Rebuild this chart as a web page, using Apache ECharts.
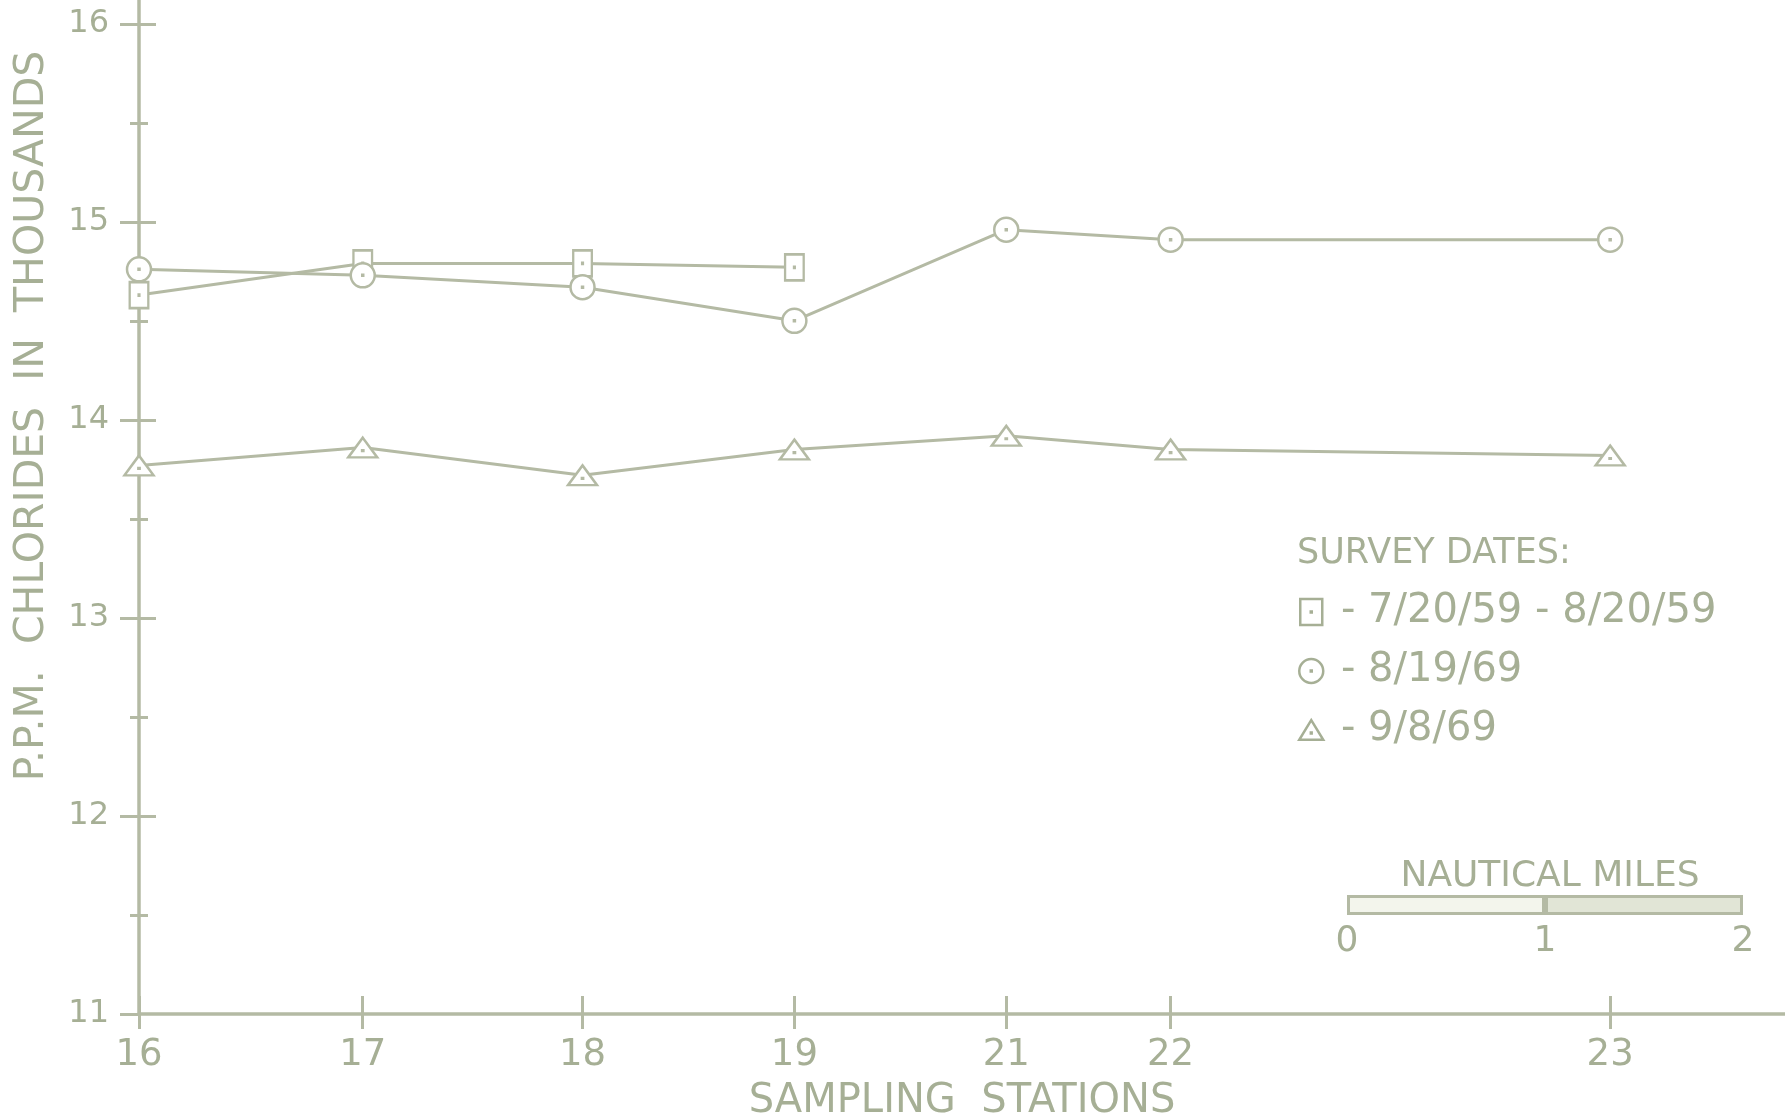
<!DOCTYPE html>
<html>
<head>
<meta charset="utf-8">
<title>Chlorides by sampling station</title>
<script src="https://cdn.jsdelivr.net/npm/echarts@6/dist/echarts.min.js"></script>
<style>
  html, body { margin: 0; padding: 0; background: #ffffff; }
  #chart { width: 1785px; height: 1116px; }
</style>
</head>
<body>
<div id="chart"></div>
<script>
// Sampling stations and their distance along the transect from station 16 (nautical miles)
const stations = ['16', '17', '18', '19', '21', '22', '23'];
const stationMiles = [0, 1.13, 2.24, 3.31, 4.38, 5.21, 7.43];

// Chlorides, p.p.m. in thousands, per survey
const survey1959 = [14.63, 14.79, 14.79, 14.77];            // stations 16-19 only
const survey0819 = [14.76, 14.73, 14.67, 14.50, 14.96, 14.91, 14.91];
const survey0908 = [13.77, 13.86, 13.72, 13.85, 13.92, 13.85, 13.82];

const surveyNames = ['7/20/59 - 8/20/59', '8/19/69', '9/8/69'];

// Axis ticks
const yMajorTicks = [11, 12, 13, 14, 15, 16];
const yMinorTicks = [11.5, 12.5, 13.5, 14.5, 15.5];
const scaleBarMiles = [0, 1, 2];

const INK = '#a6af95';
const LINE = '#b4baa4';
const FONT = '"DejaVu Sans", sans-serif';

// Hollow markers with a small centre dot
const SYM_SQUARE = 'path://M0,0 H22 V26 H0 Z M10.5,12.5 H11.5 V13.5 H10.5 Z';
const SYM_CIRCLE = 'path://M12,0 A12,12 0 1,1 11.99,0 Z M11.5,11.5 H12.5 V12.5 H11.5 Z';
const SYM_TRIANGLE = 'path://M14,0 L28,23 L0,23 Z M13.5,14.5 H14.5 V15.5 H13.5 Z';

const pairs = (vals) => vals.map((v, i) => [stationMiles[i], v]);

function stationLabel(v) {
  let best = 0;
  stationMiles.forEach((m, i) => { if (Math.abs(m - v) < Math.abs(stationMiles[best] - v)) best = i; });
  return stations[best];
}

const chart = echarts.init(document.getElementById('chart'), null, { renderer: 'canvas' });

const tickStyle = { color: LINE, width: 3 };
const xRange = { min: 0, max: 8.313 };
const yRange = { min: 11, max: 16.12 };

function lineSeries(name, vals, symbol, size) {
  return {
    name: name,
    type: 'line',
    xAxisIndex: 0,
    yAxisIndex: 0,
    data: pairs(vals),
    symbol: symbol,
    symbolSize: size,
    symbolKeepAspect: true,
    lineStyle: { color: LINE, width: 3 },
    itemStyle: { color: '#ffffff', borderColor: LINE, borderWidth: 2.5 },
    emphasis: { disabled: true },
    animation: false,
    z: 3
  };
}

// y axis drawn as several overlapping axes so ticks cross the line on both sides
function yTickAxis(values, inside, length) {
  return {
    type: 'value', gridIndex: 0, position: 'left', ...yRange,
    axisLine: { show: false },
    axisTick: { show: true, inside: inside, length: length, lineStyle: tickStyle, customValues: values },
    axisLabel: { show: false },
    splitLine: { show: false }
  };
}

chart.setOption({
  backgroundColor: '#ffffff',
  animation: false,
  textStyle: { fontFamily: FONT },
  grid: [
    { left: 139, right: 0, top: 0, bottom: 102, outerBoundsMode: 'none' },
    { left: 1347, width: 396, top: 895, height: 20, outerBoundsMode: 'none' }
  ],
  title: [
    {
      text: 'SURVEY DATES:',
      left: 1292, top: 531,
      textStyle: { fontFamily: FONT, fontSize: 35, fontWeight: 'normal', color: INK }
    },
    {
      text: 'NAUTICAL MILES',
      left: 1545, top: 854, textAlign: 'center',
      textStyle: { fontFamily: FONT, fontSize: 36, fontWeight: 'normal', color: INK }
    }
  ],
  legend: {
    orient: 'vertical',
    left: 1293, top: 587,
    itemWidth: 24, itemHeight: 26, itemGap: 19,
    selectedMode: false,
    data: [
      { name: surveyNames[0], icon: SYM_SQUARE },
      { name: surveyNames[1], icon: SYM_CIRCLE },
      { name: surveyNames[2], icon: SYM_TRIANGLE }
    ],
    itemStyle: { color: '#ffffff', borderColor: INK, borderWidth: 2.5 },
    formatter: (n) => ' - ' + n,
    textStyle: { fontFamily: FONT, fontSize: 40, lineHeight: 38, color: INK }
  },
  graphic: [
    {
      type: 'text',
      x: 32, y: 416,
      rotation: Math.PI / 2,
      style: {
        text: 'P.P.M.  CHLORIDES  IN  THOUSANDS',
        font: '41px "DejaVu Sans", sans-serif',
        fill: INK,
        align: 'center',
        verticalAlign: 'middle'
      }
    }
  ],
  xAxis: [
    {
      // station axis, ticks below the line
      type: 'value', gridIndex: 0, position: 'bottom', ...xRange,
      axisLine: { show: true, lineStyle: { color: LINE, width: 3.5 } },
      axisTick: { show: true, inside: false, length: 15, lineStyle: tickStyle, customValues: stationMiles },
      axisLabel: { show: true, customValues: stationMiles, formatter: stationLabel, fontSize: 37, color: INK, margin: 23, fontFamily: FONT },
      splitLine: { show: false },
      name: 'SAMPLING  STATIONS', nameLocation: 'middle', nameGap: 68,
      nameTextStyle: { fontSize: 40, color: INK, fontFamily: FONT }
    },
    {
      // same axis, ticks above the line
      type: 'value', gridIndex: 0, position: 'bottom', ...xRange,
      axisLine: { show: false },
      axisTick: { show: true, inside: true, length: 18, lineStyle: tickStyle, customValues: stationMiles },
      axisLabel: { show: false },
      splitLine: { show: false }
    },
    {
      // scale bar, nautical miles
      type: 'value', gridIndex: 1, position: 'bottom', min: 0, max: 2, interval: 1,
      axisLine: { show: false },
      axisTick: { show: false },
      axisLabel: { show: true, customValues: scaleBarMiles, fontSize: 36, color: INK, margin: 9, fontFamily: FONT },
      splitLine: { show: false }
    }
  ],
  yAxis: [
    {
      type: 'value', gridIndex: 0, position: 'left', ...yRange,
      axisLine: { show: true, lineStyle: { color: LINE, width: 3.5 } },
      axisTick: { show: true, inside: false, length: 19, lineStyle: tickStyle, customValues: yMajorTicks },
      axisLabel: { show: true, customValues: yMajorTicks, fontSize: 32, color: INK, margin: 30, fontFamily: FONT },
      splitLine: { show: false }
    },
    yTickAxis(yMajorTicks.slice(1), true, 17),
    yTickAxis(yMinorTicks, false, 9),
    yTickAxis(yMinorTicks, true, 9),
    {
      type: 'category', gridIndex: 1, data: ['scale'],
      show: false
    }
  ],
  series: [
    lineSeries(surveyNames[0], survey1959, SYM_SQUARE, [22, 26]),
    lineSeries(surveyNames[1], survey0819, SYM_CIRCLE, [24, 24]),
    lineSeries(surveyNames[2], survey0908, SYM_TRIANGLE, [29, 24]),
    {
      name: 'mile 0-1', type: 'bar', xAxisIndex: 2, yAxisIndex: 4, stack: 'scale',
      data: [1], barWidth: 20, silent: true,
      itemStyle: { color: '#f3f5ec', borderColor: LINE, borderWidth: 3 }
    },
    {
      name: 'mile 1-2', type: 'bar', xAxisIndex: 2, yAxisIndex: 4, stack: 'scale',
      data: [1], barWidth: 20, silent: true,
      itemStyle: { color: '#e1e5d6', borderColor: LINE, borderWidth: 3 }
    }
  ]
});
</script>
</body>
</html>
